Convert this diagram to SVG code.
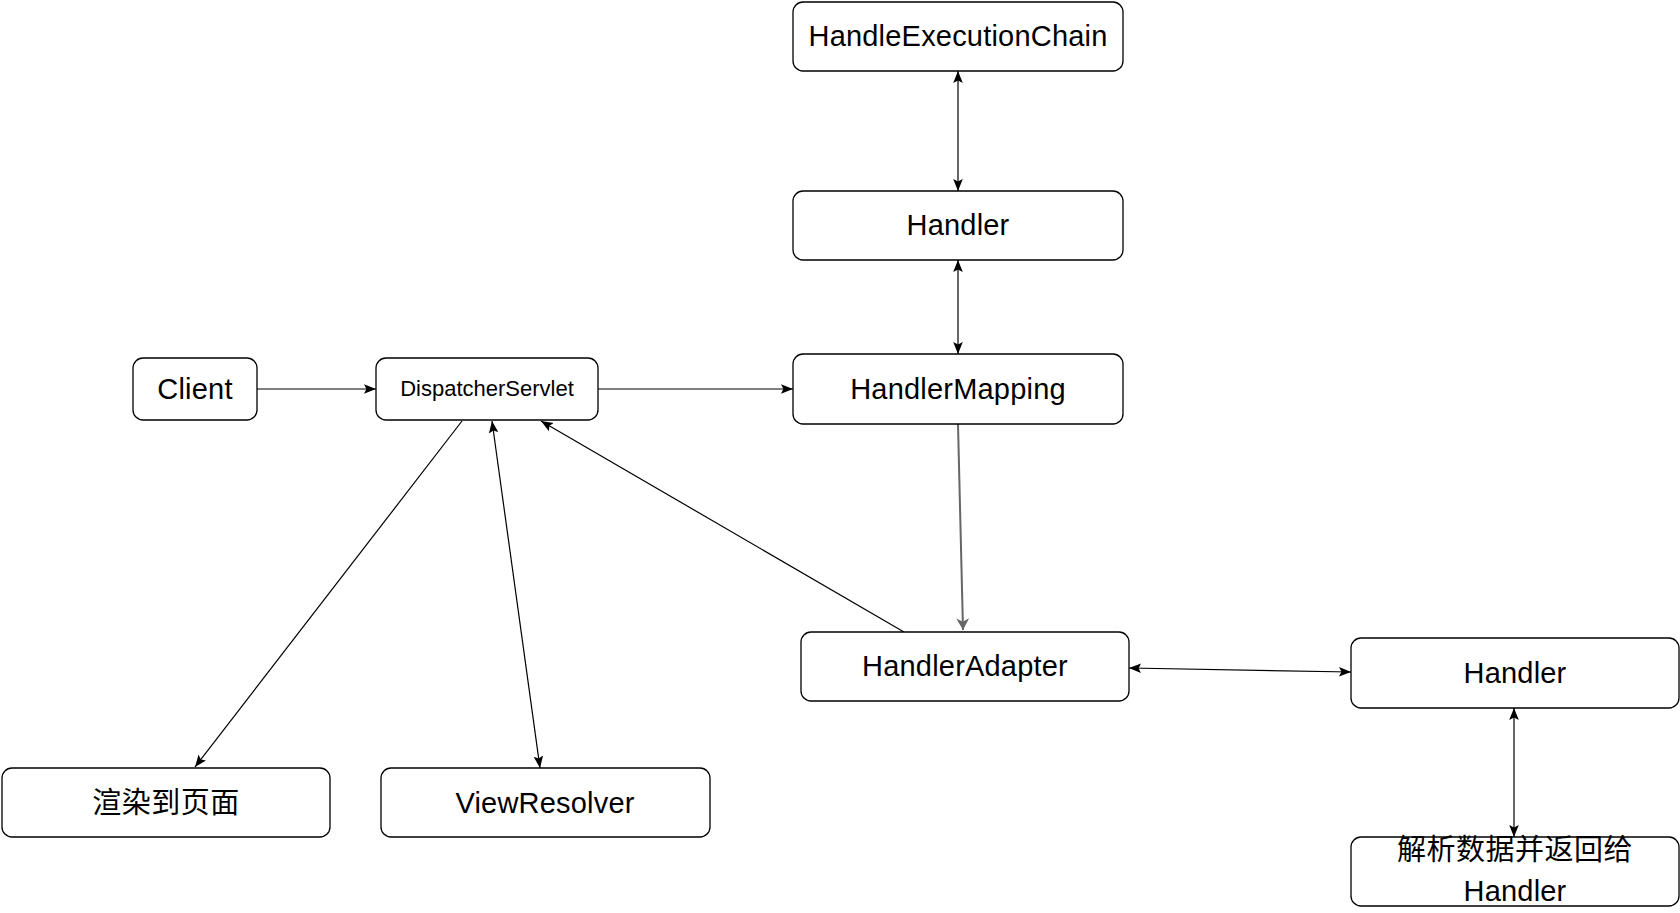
<svg xmlns="http://www.w3.org/2000/svg" width="1680" height="913" viewBox="0 0 1680 913">
<style>
.box{fill:#fff;stroke:#000;stroke-width:1.3}
.t{font-family:"Liberation Sans","Noto Sans CJK SC",Arial,sans-serif;font-size:29px;letter-spacing:0.2px;fill:#000;text-anchor:middle}
.s{font-size:22px;letter-spacing:0px}
.cjk{font-family:"Noto Sans CJK SC","Liberation Sans",sans-serif;font-size:29px;letter-spacing:0.5px}
.c{fill:none;stroke:#000;stroke-width:1.2}
.g{fill:none;stroke:#666;stroke-width:2}
</style>
<defs>
<marker id="ah" markerUnits="userSpaceOnUse" markerWidth="12" markerHeight="10" viewBox="0 0 10 8" refX="10" refY="4" orient="auto-start-reverse">
<path d="M0,0 L10,4 L0,8 L2,4 z" fill="#000"/>
</marker>
<marker id="ahg" markerUnits="userSpaceOnUse" markerWidth="12" markerHeight="14" viewBox="0 0 10 12" refX="10" refY="6" orient="auto">
<path d="M0,0.5 L10,6 L0,11.5 L3,6 z" fill="#666"/>
</marker>
</defs>
<g id="connectors">
<line class="c" x1="958" y1="71" x2="958" y2="191" marker-start="url(#ah)" marker-end="url(#ah)"/>
<line class="c" x1="958" y1="260" x2="958" y2="354" marker-start="url(#ah)" marker-end="url(#ah)"/>
<line class="c" x1="257" y1="389" x2="376" y2="389" marker-end="url(#ah)"/>
<line class="c" x1="598" y1="389" x2="793" y2="389" marker-end="url(#ah)"/>
<line class="g" x1="958" y1="424" x2="963" y2="630" marker-end="url(#ahg)"/>
<line class="c" x1="904" y1="632" x2="541" y2="421" marker-end="url(#ah)"/>
<line class="c" x1="462" y1="421" x2="195" y2="767" marker-end="url(#ah)"/>
<line class="c" x1="492" y1="421" x2="540" y2="768" marker-start="url(#ah)" marker-end="url(#ah)"/>
<line class="c" x1="1129" y1="668" x2="1351" y2="672" marker-start="url(#ah)" marker-end="url(#ah)"/>
<line class="c" x1="1514" y1="708" x2="1514" y2="837" marker-start="url(#ah)" marker-end="url(#ah)"/>
</g>
<g id="handleExecutionChain">
<rect class="box" x="793" y="2" width="330" height="69" rx="10"/>
<text class="t" x="958" y="46">HandleExecutionChain</text>
</g>
<g id="handlerTop">
<rect class="box" x="793" y="191" width="330" height="69" rx="10"/>
<text class="t" x="958" y="235">Handler</text>
</g>
<g id="handlerMapping">
<rect class="box" x="793" y="354" width="330" height="70" rx="10"/>
<text class="t" x="958" y="399">HandlerMapping</text>
</g>
<g id="client">
<rect class="box" x="133" y="358" width="124" height="62" rx="10"/>
<text class="t" x="195" y="399">Client</text>
</g>
<g id="dispatcherServlet">
<rect class="box" x="376" y="358" width="222" height="62" rx="10"/>
<text class="t s" x="487" y="396">DispatcherServlet</text>
</g>
<g id="handlerAdapter">
<rect class="box" x="801" y="632" width="328" height="69" rx="10"/>
<text class="t" x="965" y="676">HandlerAdapter</text>
</g>
<g id="handlerRight">
<rect class="box" x="1351" y="638" width="328" height="70" rx="10"/>
<text class="t" x="1515" y="683">Handler</text>
</g>
<g id="render">
<rect class="box" x="2" y="768" width="328" height="69" rx="10"/>
<text class="t cjk" x="166" y="813">渲染到页面</text>
</g>
<g id="viewResolver">
<rect class="box" x="381" y="768" width="329" height="69" rx="10"/>
<text class="t" x="545" y="813">ViewResolver</text>
</g>
<g id="parse">
<rect class="box" x="1351" y="837" width="328" height="69" rx="10"/>
<text class="t cjk" x="1515" y="860">解析数据并返回给</text>
<text class="t" x="1515" y="901">Handler</text>
</g>
</svg>
